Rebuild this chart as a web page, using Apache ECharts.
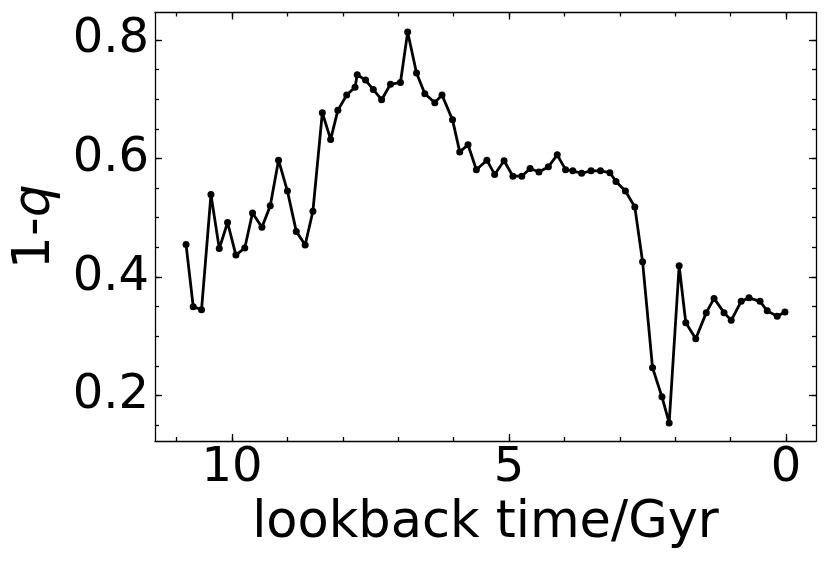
<!DOCTYPE html>
<html>
<head>
<meta charset="utf-8">
<script src="https://cdn.jsdelivr.net/npm/echarts@6/dist/echarts.min.js"></script>
<style>
  html, body { margin: 0; padding: 0; background: #fff; }
  #main { width: 830px; height: 566px; }
</style>
</head>
<body>
<div id="main"></div>
<script>
// lookback time (Gyr) and 1-q
var lookbackTime = [10.83, 10.70, 10.55, 10.38, 10.23, 10.08, 9.93, 9.77, 9.63, 9.46,
  9.31, 9.16, 9.00, 8.84, 8.68, 8.54, 8.37, 8.22, 8.09, 7.93,
  7.78, 7.74, 7.59, 7.45, 7.30, 7.14, 6.96, 6.83, 6.67, 6.52,
  6.34, 6.21, 6.02, 5.89, 5.74, 5.59, 5.40, 5.26, 5.09, 4.93,
  4.77, 4.62, 4.46, 4.29, 4.13, 3.98, 3.85, 3.69, 3.52, 3.35,
  3.18, 3.07, 2.90, 2.73, 2.59, 2.41, 2.24, 2.11, 1.93, 1.81,
  1.63, 1.44, 1.30, 1.12, 0.99, 0.81, 0.67, 0.47, 0.34, 0.16, 0.02];
var oneMinusQ = [0.455, 0.350, 0.345, 0.539, 0.448, 0.492, 0.437, 0.449, 0.508, 0.484,
  0.520, 0.597, 0.545, 0.477, 0.454, 0.511, 0.677, 0.632, 0.681, 0.707,
  0.720, 0.741, 0.732, 0.716, 0.699, 0.725, 0.728, 0.813, 0.744, 0.709,
  0.694, 0.707, 0.665, 0.611, 0.623, 0.581, 0.597, 0.573, 0.596, 0.570,
  0.570, 0.583, 0.577, 0.586, 0.606, 0.581, 0.579, 0.575, 0.579, 0.579,
  0.576, 0.561, 0.545, 0.518, 0.426, 0.247, 0.198, 0.154, 0.419, 0.323,
  0.296, 0.340, 0.364, 0.340, 0.327, 0.359, 0.365, 0.359, 0.343, 0.334, 0.341];

var xMajorTicks = [0, 5, 10];
var xMinorTicks = [0, 1, 2, 3, 4, 5, 6, 7, 8, 9, 10, 11];
var yMajorTicks = [0.2, 0.4, 0.6, 0.8];
var yMinorTicks = [0.15, 0.2, 0.25, 0.3, 0.35, 0.4, 0.45, 0.5, 0.55, 0.6, 0.65, 0.7, 0.75, 0.8];

var xMin = -0.54, xMax = 11.39;
var yMin = 0.1236, yMax = 0.846;
var FONT = 'DejaVu Sans';

var chart = echarts.init(document.getElementById('main'), null, { renderer: 'canvas' });

var gridRect = { left: 155, top: 12.5, right: 14, bottom: 125, outerBoundsMode: 'none' };

function xAx(gridIndex, pos, ticks, len, showLabel, showLine) {
  return {
    type: 'value', gridIndex: gridIndex, position: pos, inverse: true,
    min: xMin, max: xMax,
    axisLine: { show: showLine, onZero: false, lineStyle: { color: '#000', width: 1.3 } },
    axisTick: { show: true, inside: true, length: len, customValues: ticks, lineStyle: { color: '#000', width: 1.3 } },
    axisLabel: { show: showLabel, customValues: ticks, margin: 4, color: '#000', fontSize: 48, fontFamily: FONT },
    splitLine: { show: false }
  };
}
function yAx(gridIndex, pos, ticks, len, showLabel, showLine) {
  return {
    type: 'value', gridIndex: gridIndex, position: pos,
    min: yMin, max: yMax,
    axisLine: { show: showLine, onZero: false, lineStyle: { color: '#000', width: 1.3 } },
    axisTick: { show: true, inside: true, length: len, customValues: ticks, lineStyle: { color: '#000', width: 1.3 } },
    axisLabel: {
      show: showLabel, customValues: ticks, margin: 6, color: '#000', fontSize: 48, fontFamily: FONT,
      formatter: function (v) { return v.toFixed(1); }
    },
    splitLine: { show: false }
  };
}

var xBottom = xAx(0, 'bottom', xMajorTicks, 7, true, true);
xBottom.name = 'lookback time/Gyr';
xBottom.nameLocation = 'middle';
xBottom.nameGap = 55;
xBottom.nameTextStyle = { color: '#000', fontSize: 51, fontFamily: FONT };

var yLeft = yAx(0, 'left', yMajorTicks, 7, true, true);
yLeft.name = '1-{i|q}';
yLeft.nameLocation = 'middle';
yLeft.nameRotate = 90;
yLeft.nameGap = 82;
yLeft.nameTextStyle = {
  color: '#000', fontSize: 52, fontFamily: FONT,
  rich: { i: { color: '#000', fontSize: 52, fontFamily: FONT, fontStyle: 'italic' } }
};

var option = {
  backgroundColor: '#fff',
  animation: false,
  grid: [gridRect, Object.assign({}, gridRect)],
  xAxis: [
    xBottom,
    xAx(0, 'top', xMajorTicks, 7, false, true),
    xAx(1, 'bottom', xMinorTicks, 4, false, false),
    xAx(1, 'top', xMinorTicks, 4, false, false)
  ],
  yAxis: [
    yLeft,
    yAx(0, 'right', yMajorTicks, 7, false, true),
    yAx(1, 'left', yMinorTicks, 4, false, false),
    yAx(1, 'right', yMinorTicks, 4, false, false)
  ],
  series: [{
    type: 'line',
    xAxisIndex: 0,
    yAxisIndex: 0,
    data: lookbackTime.map(function (t, i) { return [t, oneMinusQ[i]]; }),
    symbol: 'circle',
    symbolSize: 7,
    showSymbol: true,
    itemStyle: { color: '#000' },
    lineStyle: { color: '#000', width: 2.8 },
    z: 5
  }]
};

chart.setOption(option);
</script>
</body>
</html>
